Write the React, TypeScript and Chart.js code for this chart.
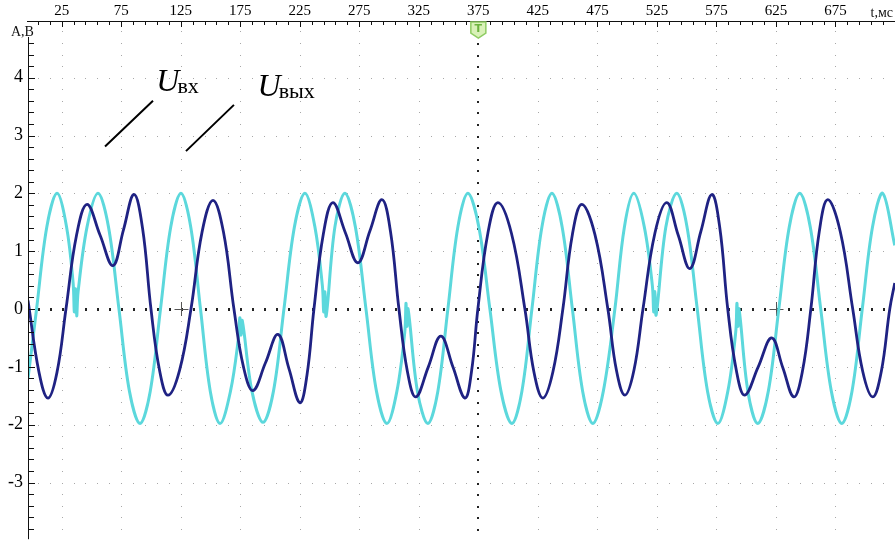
import React, { useEffect, useRef } from "react";
import { Chart, registerables } from "chart.js";

Chart.register(...registerables);

// ---- data ----
// time axis, ms
const xMajorTicks = [25, 75, 125, 175, 225, 275, 325, 375, 425, 475, 525, 575, 625, 675];
const yMajorTicks = [-3, -2, -1, 0, 1, 2, 3, 4];

// output voltage U_вых (dark)
const outT = [-3.3, 6, 13.5, 21, 28.6, 37.5, 46.3, 57.2, 68.1, 76.9, 85.7, 92.9, 100.0, 107.2, 114.3, 124.0, 133.6, 142.9, 152.1, 160.9, 169.7, 177.7, 185.7, 196.2, 206.7, 215.9, 225.1, 231.0, 236.9, 244.9, 252.8, 263.3, 273.8, 283.9, 294.0, 301.2, 308.3, 315.4, 322.5, 333.0, 343.5, 353.6, 363.7, 369.2, 374.6, 383.0, 391.4, 402.8, 414.1, 421.7, 429.2, 437.6, 446.0, 454.0, 461.9, 472.9, 483.8, 491.0, 498.1, 505.7, 513.3, 523.3, 533.3, 543.0, 552.7, 561.9, 571.1, 577.8, 584.5, 591.7, 598.8, 610.1, 621.4, 630.7, 640.0, 647.2, 654.3, 661.4, 668.5, 679.0, 689.5, 697.9, 706.3, 713.5, 720.6, 724.8];
const outV = [0.15, -1.1, -1.54, -1.1, 0, 1.28, 1.81, 1.28, 0.75, 1.37, 1.98, 1.4, 0, -1.06, -1.49, -1.06, 0, 1.33, 1.88, 1.33, 0, -1.0, -1.41, -0.93, -0.44, -1.03, -1.62, -1.15, 0, 1.31, 1.84, 1.32, 0.8, 1.35, 1.89, 1.34, 0, -1.08, -1.52, -1.0, -0.47, -1.0, -1.54, -1.09, 0, 1.31, 1.84, 1.31, 0, -1.09, -1.54, -1.09, 0, 1.29, 1.81, 1.29, 0, -1.06, -1.49, -1.06, 0, 1.31, 1.84, 1.27, 0.7, 1.34, 1.98, 1.41, 0, -1.06, -1.49, -1.0, -0.5, -1.01, -1.52, -1.08, 0, 1.34, 1.89, 1.34, 0, -1.08, -1.52, -1.08, 0, 0.45];

// input voltage U_вх (cyan)
const inT = [-3.3, 3.9, 12.5, 21.1, 29.1, 34.6, 35.6, 36.6, 37.6, 38.8, 46.3, 55.5, 64.3, 73.1, 81.9, 90.8, 99.4, 108.0, 116.6, 125.2, 133.4, 141.6, 149.8, 158.0, 166.8, 173.5, 174.6, 175.6, 176.7, 184.8, 194.1, 202.9, 211.7, 220.5, 229.3, 237.7, 244.0, 245.1, 246.1, 247.2, 254.5, 262.9, 271.7, 280.6, 289.4, 298.2, 306.6, 313.2, 314.2, 315.0, 316.0, 323.8, 332.6, 341.0, 349.4, 357.8, 366.2, 375.4, 384.7, 394.0, 403.2, 411.6, 420.0, 428.4, 436.8, 445.4, 454.0, 462.6, 471.2, 480.0, 489.7, 497.7, 505.6, 514.4, 521.2, 522.3, 523.3, 524.4, 532.5, 541.7, 550.3, 558.9, 567.5, 576.2, 584.6, 591.2, 592.2, 593.0, 594.0, 601.4, 609.7, 618.6, 627.4, 636.2, 645.0, 653.8, 662.6, 671.5, 680.3, 688.9, 697.5, 706.1, 714.7, 724.8];
const inV = [-1.2, 0, 1.42, 2.0, 1.42, 0.45, -0.05, 0.35, -0.12, 0.3, 1.42, 2.0, 1.42, 0, -1.42, -1.98, -1.42, 0, 1.42, 2.0, 1.42, 0, -1.42, -1.98, -1.42, -0.5, -0.15, -0.45, -0.2, -1.42, -1.96, -1.42, 0, 1.42, 2.0, 1.42, 0.4, -0.05, 0.3, -0.12, 1.42, 2.0, 1.42, 0, -1.42, -1.98, -1.42, -0.4, 0.1, -0.3, 0.0, -1.42, -1.98, -1.42, 0, 1.42, 2.0, 1.42, 0, -1.42, -1.98, -1.42, 0, 1.42, 2.0, 1.42, 0, -1.42, -1.98, -1.42, 0, 1.42, 2.0, 1.42, 0.4, -0.05, 0.3, -0.1, 1.42, 2.0, 1.42, 0, -1.42, -1.98, -1.42, -0.4, 0.1, -0.3, 0.0, -1.42, -1.98, -1.42, 0, 1.42, 2.0, 1.42, 0, -1.42, -1.98, -1.42, 0, 1.42, 2.0, 1.1];

const X_MIN = -3.3;
const X_MAX = 725;
const Y_MIN = -3.98;
const Y_MAX = 4.98;

const SERIF = "'Liberation Serif', 'Times New Roman', serif";

const scopePlugin = {
  id: "scope",
  beforeDraw(chart: any) {
    const ctx = chart.ctx;
    ctx.save();
    ctx.fillStyle = "#ffffff";
    ctx.fillRect(0, 0, chart.width, chart.height);
    ctx.restore();
  },
  beforeDatasetsDraw(chart: any) {
    const ctx = chart.ctx;
    const xs = chart.scales.x;
    const ys = chart.scales.y;
    ctx.save();
    // light dotted grid
    ctx.fillStyle = "#a8a8a8";
    for (const t of xMajorTicks) {
      if (t === 375) continue;
      const px = Math.round(xs.getPixelForValue(t));
      for (let v = -3.8; v < 4.9; v += 0.2) {
        const py = Math.round(ys.getPixelForValue(v));
        ctx.fillRect(px, py, 1, 1);
      }
    }
    for (const v of yMajorTicks) {
      if (v === 0) continue;
      const py = Math.round(ys.getPixelForValue(v));
      for (let t = 5; t < X_MAX; t += 10) {
        const px = Math.round(xs.getPixelForValue(t));
        ctx.fillRect(px, py, 1, 1);
      }
    }
    // dark zero line and trigger line
    ctx.fillStyle = "#222222";
    const py0 = Math.round(ys.getPixelForValue(0));
    for (let t = 5; t < X_MAX; t += 10) {
      const px = Math.round(xs.getPixelForValue(t));
      ctx.fillRect(px, py0 - 1, 2, 3);
    }
    const pxT = Math.round(xs.getPixelForValue(375));
    for (let v = -3.8; v < 4.7; v += 0.2) {
      const py = Math.round(ys.getPixelForValue(v));
      ctx.fillRect(pxT - 1, py, 2, 2);
    }
    // crosshairs
    ctx.strokeStyle = "#555555";
    ctx.lineWidth = 1;
    for (const t of [125, 625]) {
      const px = Math.round(xs.getPixelForValue(t)) + 0.5;
      ctx.beginPath();
      ctx.moveTo(px - 7, py0 + 0.5);
      ctx.lineTo(px + 7, py0 + 0.5);
      ctx.moveTo(px, py0 - 7);
      ctx.lineTo(px, py0 + 7);
      ctx.stroke();
    }
    ctx.restore();
  },
  afterDatasetsDraw(chart: any) {
    const ctx = chart.ctx;
    const xs = chart.scales.x;
    const ys = chart.scales.y;
    const a = chart.chartArea;
    ctx.save();
    // axes
    ctx.strokeStyle = "#111111";
    ctx.lineWidth = 1;
    ctx.beginPath();
    ctx.moveTo(a.left - 1, a.top + 0.5);
    ctx.lineTo(a.right, a.top + 0.5);
    ctx.moveTo(a.left + 0.5, a.top + 16);
    ctx.lineTo(a.left + 0.5, a.bottom);
    ctx.stroke();
    ctx.beginPath();
    for (let t = 5; t < X_MAX; t += 10) {
      const px = Math.round(xs.getPixelForValue(t)) + 0.5;
      const major = xMajorTicks.includes(t);
      ctx.moveTo(px, a.top);
      ctx.lineTo(px, a.top + (major ? 6 : 4));
    }
    for (let i = -19; i <= 23; i++) {
      const v = i / 5;
      const py = Math.round(ys.getPixelForValue(v)) + 0.5;
      const major = i % 5 === 0;
      ctx.moveTo(a.left, py);
      ctx.lineTo(a.left + (major ? 7 : 6), py);
    }
    ctx.stroke();

    // axis captions
    ctx.fillStyle = "#111111";
    ctx.font = `14px ${SERIF}`;
    ctx.textAlign = "left";
    ctx.textBaseline = "alphabetic";
    ctx.fillText("А,В", 11, 36);
    ctx.textAlign = "right";
    ctx.fillText("t,мс", 893, 17);

    // callout lines
    ctx.strokeStyle = "#000000";
    ctx.lineWidth = 2;
    ctx.beginPath();
    ctx.moveTo(xs.getPixelForValue(61.4), ys.getPixelForValue(2.81));
    ctx.lineTo(xs.getPixelForValue(101.7), ys.getPixelForValue(3.6));
    ctx.moveTo(xs.getPixelForValue(129.4), ys.getPixelForValue(2.73));
    ctx.lineTo(xs.getPixelForValue(169.7), ys.getPixelForValue(3.53));
    ctx.stroke();

    // labels U_вх, U_вых
    ctx.fillStyle = "#000000";
    ctx.textAlign = "left";
    const drawU = (t: number, v: number, sub: string) => {
      const x = xs.getPixelForValue(t);
      const y = ys.getPixelForValue(v);
      ctx.font = `italic 32px ${SERIF}`;
      ctx.fillText("U", x, y);
      const w = ctx.measureText("U").width;
      ctx.font = `22px ${SERIF}`;
      ctx.fillText(sub, x + w - 2, y + 2);
    };
    drawU(104.5, 3.77, "вх");
    drawU(189.5, 3.68, "вых");

    // trigger marker
    const px = xs.getPixelForValue(375);
    ctx.beginPath();
    ctx.moveTo(px - 7.5, a.top + 1);
    ctx.lineTo(px + 7.5, a.top + 1);
    ctx.lineTo(px + 7.5, a.top + 12);
    ctx.lineTo(px, a.top + 17);
    ctx.lineTo(px - 7.5, a.top + 12);
    ctx.closePath();
    ctx.fillStyle = "#d9f1b8";
    ctx.fill();
    ctx.strokeStyle = "#8fcc63";
    ctx.lineWidth = 1.5;
    ctx.stroke();
    ctx.fillStyle = "#6db33f";
    ctx.font = `bold 11px 'DejaVu Sans', sans-serif`;
    ctx.textAlign = "center";
    ctx.textBaseline = "middle";
    ctx.fillText("T", px, a.top + 8);
    ctx.restore();
  },
};

export default function App() {
  const ref = useRef<HTMLCanvasElement | null>(null);

  useEffect(() => {
    document.body.style.margin = "0";
    if (!ref.current) return;
    const chart = new Chart(ref.current, {
      type: "line",
      data: {
        datasets: [
          {
            label: "Uвых",
            data: outT.map((t, i) => ({ x: t, y: outV[i] })),
            borderColor: "#1f2283",
            borderWidth: 2.8,
            pointRadius: 0,
            tension: 0.4,
            fill: false,
          },
          {
            label: "Uвх",
            data: inT.map((t, i) => ({ x: t, y: inV[i] })),
            borderColor: "#5cd8dc",
            borderWidth: 3,
            pointRadius: 0,
            tension: 0.35,
            fill: false,
          },
        ],
      },
      options: {
        animation: false,
        responsive: false,
        events: [],
        layout: { padding: 0 },
        plugins: { legend: { display: false }, tooltip: { enabled: false } },
        scales: {
          x: {
            type: "linear",
            position: "top",
            min: X_MIN,
            max: X_MAX,
            afterFit: (s: any) => {
              s.height = 21;
            },
            afterBuildTicks: (s: any) => {
              s.ticks = xMajorTicks.map((v) => ({ value: v }));
            },
            grid: { display: false, drawTicks: false },
            border: { display: false },
            ticks: {
              autoSkip: false,
              maxRotation: 0,
              padding: 1,
              color: "#000000",
              font: { family: SERIF, size: 15 },
              callback: (v: any) => String(v),
            },
          },
          y: {
            type: "linear",
            min: Y_MIN,
            max: Y_MAX,
            afterFit: (s: any) => {
              s.width = 28;
            },
            afterBuildTicks: (s: any) => {
              s.ticks = yMajorTicks.map((v) => ({ value: v }));
            },
            grid: { display: false, drawTicks: false },
            border: { display: false },
            ticks: {
              autoSkip: false,
              padding: 5,
              color: "#000000",
              font: { family: SERIF, size: 18 },
              callback: (v: any) => String(v),
            },
          },
        },
      },
      plugins: [scopePlugin],
    });
    return () => chart.destroy();
  }, []);

  return (
    <div style={{ width: 895, height: 555, position: "relative" }}>
      <canvas ref={ref} width={895} height={555} style={{ display: "block" }} />
    </div>
  );
}
